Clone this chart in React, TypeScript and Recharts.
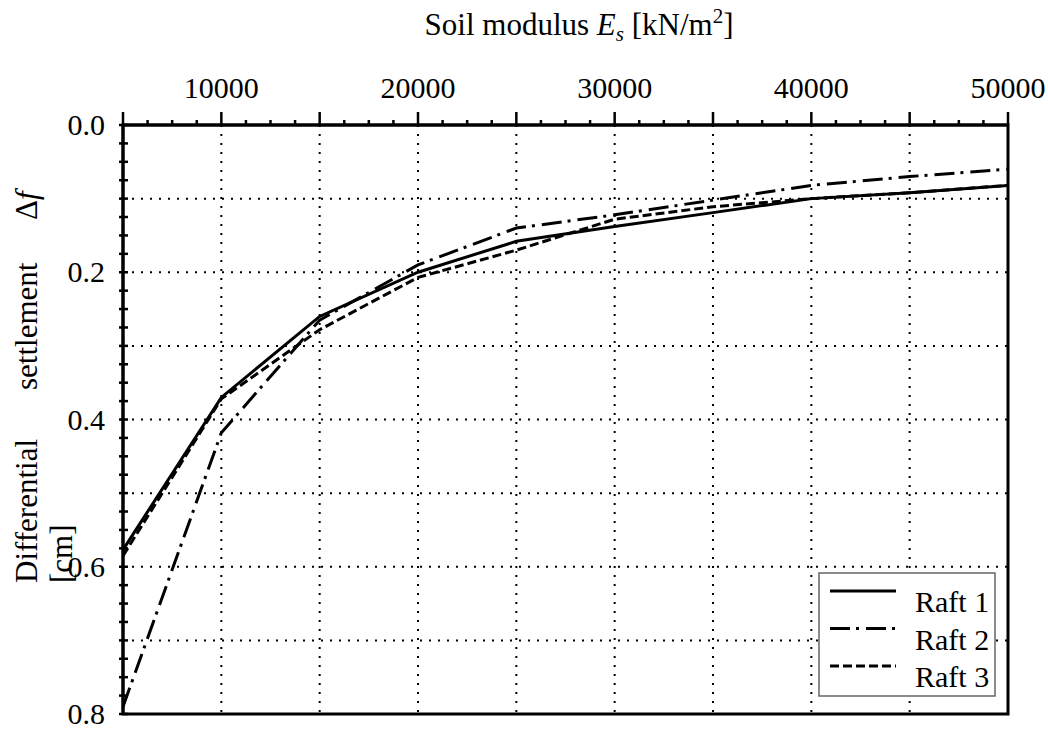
import React from "react"
import { LineChart, Line, XAxis, YAxis, ReferenceLine, ReferenceArea } from "recharts"

// soil modulus E_s [kN/m2]
const soilModulus = [5000, 10000, 15000, 20000, 25000, 30000, 35000, 40000, 45000, 50000]
// differential settlement [cm]
const raft1 = [0.577, 0.37, 0.26, 0.2, 0.158, 0.138, 0.119, 0.1, 0.092, 0.082]
const raft2 = [0.79, 0.418, 0.265, 0.19, 0.14, 0.122, 0.102, 0.082, 0.07, 0.06]
const raft3 = [0.585, 0.372, 0.278, 0.207, 0.17, 0.128, 0.111, 0.1, 0.092, 0.082]

const xTickLabels = [10000, 20000, 30000, 40000, 50000]
const xGridValues = [10000, 15000, 20000, 25000, 30000, 35000, 40000, 45000]
const yTickLabels = ["0.0", "0.2", "0.4", "0.6", "0.8"]
const yGridValues = [0.1, 0.2, 0.3, 0.4, 0.5, 0.6, 0.7]

// minor ticks: 1250 steps on x, 0.025 steps on y
const xMinorTicks = Array.from({ length: 37 }, (_, i) => 5000 + i * 1250)
const yMinorTicks = Array.from({ length: 33 }, (_, i) => i / 40)

const data = soilModulus.map((es, i) => ({ es, raft1: raft1[i], raft2: raft2[i], raft3: raft3[i] }))

const FONT = "'Liberation Serif', 'Times New Roman', serif"
const DASH_DOT = "20 6 3 7"
const DASHED = "9 4"

const XTick = (props: any) => {
    const { x, y, payload } = props
    const v = payload.value
    const major = v % 5000 === 0
    return (
        <g>
            <line x1={x} x2={x} y1={y} y2={y - (major ? 13 : 5)} stroke="#000" strokeWidth={2.5} />
            {xTickLabels.includes(v) && (
                <text x={x} y={y - 27} textAnchor="middle" fontFamily={FONT} fontSize={30} fill="#000">
                    {v}
                </text>
            )}
        </g>
    )
}

const YTick = (props: any) => {
    const { x, y, payload } = props
    const step = Math.round(payload.value * 40)
    const label = step % 8 === 0 ? yTickLabels[step / 8] : null
    return (
        <g>
            <line x1={x - 4} x2={x + 5} y1={y} y2={y} stroke="#000" strokeWidth={2.5} />
            {label && (
                <text x={x - 18} y={y + 10} textAnchor="end" fontFamily={FONT} fontSize={30} fill="#000">
                    {label}
                </text>
            )}
        </g>
    )
}

const legendItems = [
    { name: "Raft 1", dash: undefined },
    { name: "Raft 2", dash: DASH_DOT },
    { name: "Raft 3", dash: DASHED },
]

export default function App() {
    return (
        <div style={{ position: "absolute", left: 0, top: 0, width: 1048, height: 731, background: "#fff" }}>
            <LineChart width={1048} height={731} data={data} margin={{ top: 65, right: 40, bottom: 17, left: 43 }}>
                <XAxis
                    type="number"
                    dataKey="es"
                    orientation="top"
                    domain={[5000, 50000]}
                    ticks={xMinorTicks}
                    interval={0}
                    tickSize={0}
                    tickMargin={0}
                    tickLine={false}
                    height={60}
                    axisLine={{ stroke: "#000", strokeWidth: 3 }}
                    tick={<XTick />}
                    allowDataOverflow
                />
                <YAxis
                    type="number"
                    domain={[0, 0.8]}
                    reversed
                    ticks={yMinorTicks}
                    interval={0}
                    tickSize={0}
                    tickMargin={0}
                    tickLine={false}
                    width={80}
                    axisLine={{ stroke: "#000", strokeWidth: 3 }}
                    tick={<YTick />}
                    allowDataOverflow
                />
                {xGridValues.map((v) => (
                    <ReferenceLine key={`gx${v}`} x={v} stroke="#000" strokeWidth={2} strokeDasharray="2 7" />
                ))}
                {yGridValues.map((v) => (
                    <ReferenceLine key={`gy${v}`} y={v} stroke="#000" strokeWidth={2} strokeDasharray="2 7" />
                ))}
                <ReferenceArea x1={5000} x2={50000} y1={0} y2={0.8} fill="none" stroke="#000" strokeWidth={3} />
                <Line type="linear" dataKey="raft1" stroke="#000" strokeWidth={3} dot={false} isAnimationActive={false} />
                <Line type="linear" dataKey="raft2" stroke="#000" strokeWidth={3} strokeDasharray={DASH_DOT} dot={false} isAnimationActive={false} />
                <Line type="linear" dataKey="raft3" stroke="#000" strokeWidth={3} strokeDasharray={DASHED} dot={false} isAnimationActive={false} />
            </LineChart>

            <svg width={1048} height={731} style={{ position: "absolute", left: 0, top: 0, pointerEvents: "none" }}>
                <text x={579} y={35} textAnchor="middle" fontFamily={FONT} fontSize={31} fill="#000">
                    Soil modulus{" "}
                    <tspan fontStyle="italic">E</tspan>
                    <tspan fontStyle="italic" fontSize={21} dy={6}>s</tspan>
                    <tspan dy={-6}> [kN/m</tspan>
                    <tspan fontSize={21} dy={-12}>2</tspan>
                    <tspan dy={12}>]</tspan>
                </text>

                <g fontFamily={FONT} fontSize={31} fill="#000">
                    <text transform="translate(37,583) rotate(-90)">Differential</text>
                    <text transform="translate(37,390) rotate(-90)">settlement</text>
                    <text transform="translate(37,220) rotate(-90)">
                        Δ<tspan fontStyle="italic">f</tspan>
                    </text>
                    <text transform="translate(72,583) rotate(-90)">[cm]</text>
                </g>

                <g transform="translate(819,573)">
                    <rect x={0} y={0} width={176} height={123} fill="#fff" stroke="#666" strokeWidth={1.5} />
                    {legendItems.map((item, i) => (
                        <g key={item.name} transform={`translate(0,${18 + i * 37.5})`}>
                            <line x1={11} x2={77} y1={0} y2={0} stroke="#000" strokeWidth={3} strokeDasharray={item.dash} />
                            <text x={96} y={21} fontFamily={FONT} fontSize={30} fill="#000">
                                {item.name}
                            </text>
                        </g>
                    ))}
                </g>
            </svg>
        </div>
    )
}
